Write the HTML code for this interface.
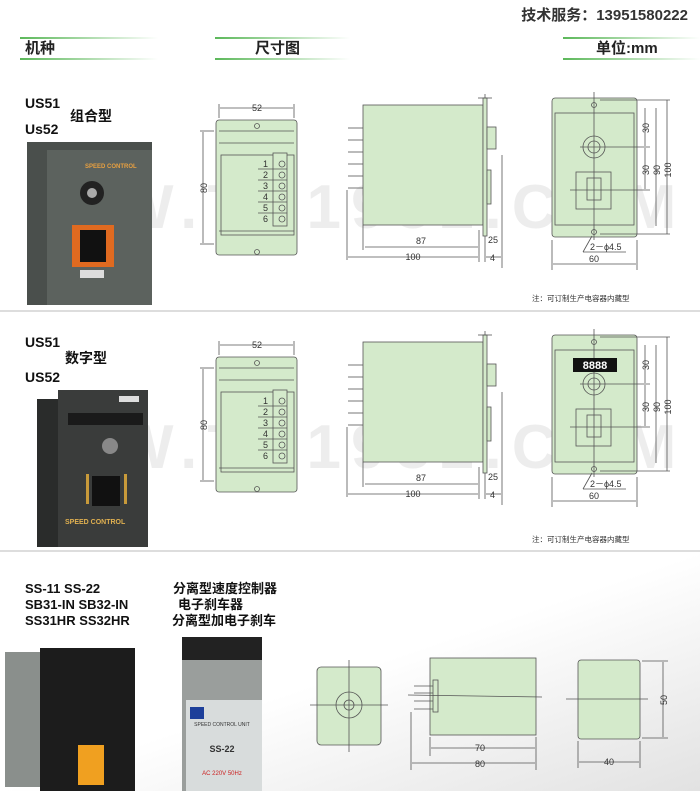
<!DOCTYPE html>
<html><head><meta charset="utf-8"><style>
body{margin:0;background:#fff}
svg{display:block}
text{font-family:"Liberation Sans","Noto Sans CJK SC",sans-serif}
.b{font-weight:bold}
.d{font-size:9px;fill:#333}
</style></head><body>
<svg width="700" height="791" viewBox="0 0 700 791" xmlns="http://www.w3.org/2000/svg">
<defs>
<linearGradient id="gl" x1="0" x2="1"><stop offset="0" stop-color="#5cb85a"/><stop offset="1" stop-color="#5cb85a" stop-opacity="0"/></linearGradient>
<linearGradient id="bg3" x1="0" y1="0" x2="1" y2="1"><stop offset="0.5" stop-color="#fff"/><stop offset="1" stop-color="#e2e2e2"/></linearGradient>
<g id="dw" stroke="#555" stroke-width="0.8" fill="none">
 <!-- front -->
 <rect x="216" y="120" width="81" height="135" rx="3" fill="#d4eacb"/>
 <line x1="219" y1="131" x2="294" y2="131"/><line x1="219" y1="143" x2="294" y2="143"/>
 <rect x="221" y="155" width="73" height="80" fill="#d4eacb"/>
 <line x1="219" y1="231" x2="294" y2="231"/>
 <circle cx="257" cy="126" r="2.5"/><circle cx="257" cy="252" r="2.5"/>
 <rect x="273" y="153" width="14" height="73" fill="#d4eacb"/>
 <g><circle cx="282" cy="164" r="3"/><circle cx="282" cy="175" r="3"/><circle cx="282" cy="186" r="3"/><circle cx="282" cy="197" r="3"/><circle cx="282" cy="208" r="3"/><circle cx="282" cy="219" r="3"/></g>
 <line x1="258" y1="169" x2="287" y2="169"/><line x1="258" y1="180" x2="287" y2="180"/><line x1="258" y1="191" x2="287" y2="191"/><line x1="258" y1="202" x2="287" y2="202"/><line x1="258" y1="213" x2="287" y2="213"/>
 <line x1="219" y1="104" x2="219" y2="118"/><line x1="294" y1="104" x2="294" y2="118"/><line x1="220" y1="108" x2="293" y2="108"/>
 <line x1="200" y1="131" x2="214" y2="131"/><line x1="200" y1="244" x2="214" y2="244"/><line x1="203" y1="132" x2="203" y2="243"/>
 <!-- side -->
 <rect x="363" y="105" width="120" height="120" fill="#d4eacb"/>
 <rect x="483" y="98" width="4" height="138" fill="#d4eacb"/>
 <line x1="485" y1="94" x2="485" y2="98"/><line x1="478" y1="98" x2="492" y2="98"/>
 <rect x="487" y="127" width="9" height="22" fill="#d4eacb"/>
 <rect x="487" y="170" width="4" height="34" fill="#d4eacb"/>
 <g><line x1="348" y1="128" x2="363" y2="128"/><line x1="348" y1="140" x2="363" y2="140"/><line x1="348" y1="152" x2="363" y2="152"/><line x1="348" y1="164" x2="363" y2="164"/><line x1="348" y1="176" x2="363" y2="176"/><line x1="348" y1="188" x2="363" y2="188"/></g>
 <line x1="347" y1="190" x2="347" y2="260"/><line x1="363" y1="225" x2="363" y2="250"/><line x1="479" y1="230" x2="479" y2="262"/><line x1="485" y1="236" x2="485" y2="262"/><line x1="502" y1="155" x2="502" y2="268"/>
 <line x1="365" y1="247" x2="478" y2="247"/><line x1="348" y1="257" x2="478" y2="257"/><line x1="486" y1="257" x2="501" y2="257"/>
 <!-- right -->
 <rect x="552" y="98" width="85" height="139" rx="3" fill="#d4eacb"/>
 <rect x="555" y="113" width="79" height="112" fill="#d4eacb"/>
 <line x1="594" y1="92" x2="594" y2="240"/>
 <circle cx="594" cy="105" r="2.5"/><circle cx="594" cy="232" r="2.5"/>
 <circle cx="594" cy="147" r="11"/><circle cx="594" cy="147" r="6"/>
 <rect x="576" y="172" width="35" height="37"/><rect x="587" y="178" width="14" height="22"/>
 <line x1="580" y1="147" x2="650" y2="147"/><line x1="570" y1="190" x2="650" y2="190"/>
 <line x1="600" y1="100" x2="670" y2="100"/><line x1="600" y1="234" x2="670" y2="234"/>
 <line x1="645" y1="108" x2="645" y2="146"/><line x1="645" y1="148" x2="645" y2="189"/>
 <line x1="656" y1="108" x2="656" y2="226"/><line x1="667" y1="100" x2="667" y2="234"/>
 <line x1="552" y1="240" x2="552" y2="270"/><line x1="637" y1="240" x2="637" y2="270"/><line x1="553" y1="264" x2="636" y2="264"/>
 <line x1="592" y1="236" x2="583" y2="252"/><line x1="583" y1="252" x2="626" y2="252"/>
</g>
</defs>

<!-- header -->
<text x="688" y="20" text-anchor="end" class="b" font-size="15" fill="#333">技术服务：13951580222</text>
<rect x="20" y="37" width="138" height="2" fill="url(#gl)"/><rect x="20" y="58" width="138" height="2" fill="url(#gl)"/>
<rect x="215" y="37" width="135" height="2" fill="url(#gl)"/><rect x="215" y="58" width="135" height="2" fill="url(#gl)"/>
<rect x="563" y="37" width="137" height="2" fill="url(#gl)"/><rect x="563" y="58" width="137" height="2" fill="url(#gl)"/>
<text x="25" y="53" class="b" font-size="15" fill="#222">机种</text>
<text x="255" y="53" class="b" font-size="15" fill="#222">尺寸图</text>
<text x="596" y="53" class="b" font-size="15" fill="#222">单位:mm</text>

<!-- watermark -->
<text x="115" y="228" font-size="62" class="b" fill="#000" fill-opacity="0.07" letter-spacing="10">W.TX1982.COM</text>
<text x="115" y="468" font-size="62" class="b" fill="#000" fill-opacity="0.07" letter-spacing="10">W.TX1982.COM</text>

<line x1="0" y1="311" x2="700" y2="311" stroke="#bbb"/>
<line x1="0" y1="551" x2="700" y2="551" stroke="#bbb"/>
<rect x="0" y="552" width="700" height="239" fill="url(#bg3)"/>

<!-- section 1 -->
<text x="25" y="108" class="b" font-size="14" fill="#111">US51</text>
<text x="70" y="121" class="b" font-size="14" fill="#111">组合型</text>
<text x="25" y="134" class="b" font-size="14" fill="#111">Us52</text>
<rect x="27" y="142" width="125" height="163" fill="#4a4f4c"/>
<rect x="47" y="150" width="105" height="155" fill="#5c625e"/>
<circle cx="92" cy="193" r="12" fill="#222"/><circle cx="92" cy="193" r="5" fill="#aaa"/>
<rect x="72" y="225" width="42" height="42" fill="#e06a20"/><rect x="80" y="230" width="26" height="32" fill="#111"/>
<rect x="80" y="270" width="24" height="8" fill="#ddd"/>
<text x="85" y="168" font-size="6" fill="#e8a040" class="b">SPEED CONTROL</text>
<use href="#dw"/>
<g class="d">
<text x="257" y="111" text-anchor="middle" font-size="9">52</text>
<text x="207" y="188" transform="rotate(-90 207 188)" text-anchor="middle">80</text>
<text x="263" y="167">1</text><text x="263" y="178">2</text><text x="263" y="189">3</text><text x="263" y="200">4</text><text x="263" y="211">5</text><text x="263" y="222">6</text>
<text x="421" y="244" text-anchor="middle">87</text><text x="413" y="260" text-anchor="middle">100</text>
<text x="488" y="243">25</text><text x="490" y="261">4</text>
<text x="649" y="128" transform="rotate(-90 649 128)" text-anchor="middle">30</text>
<text x="649" y="170" transform="rotate(-90 649 170)" text-anchor="middle">30</text>
<text x="660" y="170" transform="rotate(-90 660 170)" text-anchor="middle">90</text>
<text x="671" y="170" transform="rotate(-90 671 170)" text-anchor="middle">100</text>
<text x="594" y="262" text-anchor="middle">60</text>
<text x="590" y="250">2－ϕ4.5</text>
<text x="532" y="301" font-size="7.5">注：可订制生产电容器内藏型</text>
</g>

<!-- section 2 -->
<text x="25" y="347" class="b" font-size="14" fill="#111">US51</text>
<text x="65" y="363" class="b" font-size="14" fill="#111">数字型</text>
<text x="25" y="382" class="b" font-size="14" fill="#111">US52</text>
<rect x="37" y="399" width="25" height="148" fill="#2a2c2b"/>
<rect x="58" y="390" width="90" height="157" fill="#3a3c3b"/>
<rect x="68" y="413" width="75" height="12" fill="#1a1a1a"/>
<rect x="119" y="396" width="20" height="6" fill="#ddd"/>
<circle cx="110" cy="446" r="8" fill="#888"/>
<rect x="86" y="474" width="3" height="30" fill="#c89a3a"/><rect x="124" y="474" width="3" height="30" fill="#c89a3a"/>
<rect x="92" y="476" width="28" height="30" fill="#111"/>
<text x="65" y="524" font-size="7" class="b" fill="#e0b050">SPEED CONTROL</text>
<g transform="translate(0,237)"><use href="#dw"/></g>
<rect x="573" y="358" width="44" height="14" fill="#111"/>
<text x="595" y="369" text-anchor="middle" class="b" font-size="11" fill="#fff">8888</text>
<g class="d" transform="translate(0,237)">
<text x="257" y="111" text-anchor="middle">52</text>
<text x="207" y="188" transform="rotate(-90 207 188)" text-anchor="middle">80</text>
<text x="263" y="167">1</text><text x="263" y="178">2</text><text x="263" y="189">3</text><text x="263" y="200">4</text><text x="263" y="211">5</text><text x="263" y="222">6</text>
<text x="421" y="244" text-anchor="middle">87</text><text x="413" y="260" text-anchor="middle">100</text>
<text x="488" y="243">25</text><text x="490" y="261">4</text>
<text x="649" y="128" transform="rotate(-90 649 128)" text-anchor="middle">30</text>
<text x="649" y="170" transform="rotate(-90 649 170)" text-anchor="middle">30</text>
<text x="660" y="170" transform="rotate(-90 660 170)" text-anchor="middle">90</text>
<text x="671" y="170" transform="rotate(-90 671 170)" text-anchor="middle">100</text>
<text x="594" y="262" text-anchor="middle">60</text>
<text x="590" y="250">2－ϕ4.5</text>
<text x="532" y="305" font-size="7.5">注：可订制生产电容器内藏型</text>
</g>

<!-- section 3 -->
<g class="b" font-size="13" fill="#111">
<text x="25" y="593">SS-11  SS-22</text><text x="173" y="593">分离型速度控制器</text>
<text x="25" y="609">SB31-IN SB32-IN</text><text x="178" y="609">电子刹车器</text>
<text x="25" y="625">SS31HR  SS32HR</text><text x="172" y="625">分离型加电子刹车</text>
</g>
<rect x="5" y="652" width="40" height="135" fill="#8a8f8c"/>
<rect x="40" y="648" width="95" height="143" fill="#1c1c1c"/>
<rect x="78" y="745" width="26" height="40" fill="#f0a020"/>
<rect x="182" y="637" width="80" height="30" fill="#222"/>
<rect x="182" y="660" width="80" height="131" fill="#9a9e9c"/>
<rect x="186" y="700" width="76" height="91" fill="#d8dcdc"/>
<rect x="190" y="707" width="14" height="12" fill="#1d3f9a"/>
<text x="222" y="726" text-anchor="middle" font-size="5" fill="#333">SPEED CONTROL UNIT</text>
<text x="222" y="752" text-anchor="middle" class="b" font-size="9" fill="#333">SS-22</text>
<text x="222" y="775" text-anchor="middle" font-size="6" fill="#c22">AC 220V 50Hz</text>
<g stroke="#555" stroke-width="0.8" fill="none">
<rect x="317" y="667" width="64" height="78" rx="4" fill="#d4eacb"/>
<line x1="349" y1="660" x2="349" y2="752"/><line x1="310" y1="705" x2="388" y2="705"/>
<circle cx="349" cy="705" r="13"/><circle cx="349" cy="705" r="5"/>
<rect x="430" y="658" width="106" height="77" fill="#d4eacb"/>
<rect x="433" y="680" width="5" height="32" fill="#d4eacb"/>
<line x1="414" y1="686" x2="433" y2="686"/><line x1="414" y1="693" x2="433" y2="693"/><line x1="414" y1="701" x2="433" y2="701"/><line x1="414" y1="709" x2="433" y2="709"/>
<line x1="408" y1="695" x2="542" y2="697"/>
<line x1="430" y1="737" x2="430" y2="756"/><line x1="411" y1="712" x2="411" y2="770"/><line x1="536" y1="737" x2="536" y2="770"/>
<line x1="431" y1="748" x2="535" y2="748"/><line x1="412" y1="763" x2="535" y2="763"/>
<rect x="578" y="660" width="62" height="79" rx="3" fill="#d4eacb"/>
<line x1="566" y1="699" x2="648" y2="699"/>
<line x1="642" y1="661" x2="668" y2="661"/><line x1="642" y1="738" x2="668" y2="738"/><line x1="663" y1="662" x2="663" y2="737"/>
<line x1="578" y1="741" x2="578" y2="768"/><line x1="640" y1="741" x2="640" y2="768"/><line x1="579" y1="762" x2="639" y2="762"/>
</g>
<g class="d">
<text x="480" y="751" text-anchor="middle">70</text>
<text x="480" y="767" text-anchor="middle">80</text>
<text x="609" y="765" text-anchor="middle">40</text>
<text x="667" y="700" transform="rotate(-90 667 700)" text-anchor="middle">50</text>
</g>
</svg>
</body></html>
